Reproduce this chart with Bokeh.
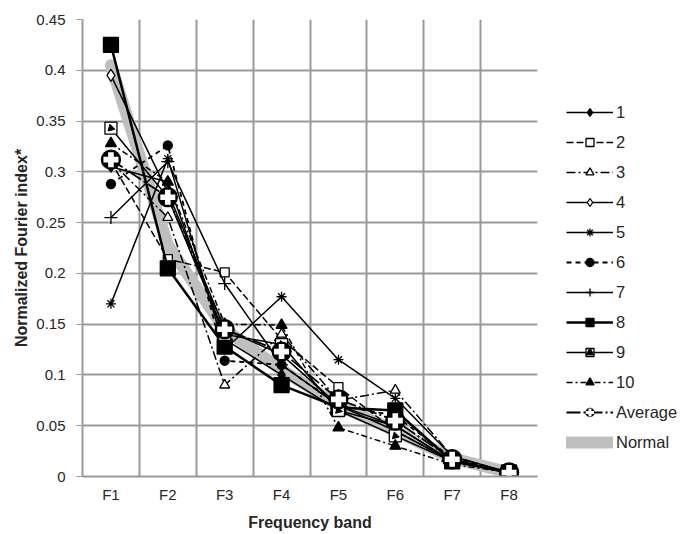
import math
from bokeh.plotting import figure
from bokeh.models import Legend, LegendItem, FixedTicker, Range1d
from bokeh.embed import file_html
from bokeh.resources import INLINE

bands = ["F1", "F2", "F3", "F4", "F5", "F6", "F7", "F8"]
y_ticks = [0, 0.05, 0.1, 0.15, 0.2, 0.25, 0.3, 0.35, 0.4, 0.45]

s1 = [0.305, 0.290, 0.135, 0.100, 0.065, 0.050, 0.015, 0.004]
s2 = [0.310, 0.214, 0.201, 0.135, 0.088, 0.045, 0.015, 0.004]
s3 = [0.310, 0.255, 0.090, 0.140, 0.075, 0.085, 0.020, 0.004]
s4 = [0.395, 0.280, 0.145, 0.120, 0.070, 0.050, 0.015, 0.004]
s5 = [0.170, 0.313, 0.125, 0.177, 0.115, 0.077, 0.020, 0.004]
s6 = [0.288, 0.326, 0.114, 0.110, 0.070, 0.060, 0.018, 0.004]
s7 = [0.255, 0.310, 0.190, 0.110, 0.070, 0.045, 0.015, 0.004]
s8 = [0.425, 0.205, 0.128, 0.090, 0.068, 0.065, 0.015, 0.004]
s9 = [0.343, 0.275, 0.140, 0.130, 0.065, 0.040, 0.015, 0.004]
s10 = [0.328, 0.290, 0.150, 0.149, 0.048, 0.030, 0.012, 0.004]
average = [0.312, 0.275, 0.145, 0.123, 0.076, 0.055, 0.017, 0.004]
normal = [0.405, 0.228, 0.145, 0.105, 0.070, 0.045, 0.018, 0.004]

x = list(range(1, len(bands) + 1))
FONT = "Liberation Sans"

p = figure(frame_width=455, frame_height=457, output_backend="svg", toolbar_location=None,
           x_range=Range1d(0.5, 8.5), y_range=Range1d(0, 0.45),
           min_border_left=82, min_border_top=19, min_border_bottom=50, min_border_right=0)
p.background_fill_color = "white"
p.outline_line_color = None

# axes
p.xaxis.ticker = FixedTicker(ticks=x)
p.xaxis.major_label_overrides = {i: b for i, b in zip(x, bands)}
p.yaxis.ticker = FixedTicker(ticks=y_ticks)
p.yaxis.major_label_overrides = {0: "0"}
p.yaxis.minor_tick_line_color = None
p.xaxis.minor_tick_line_color = None
p.yaxis.major_tick_in = 0
p.yaxis.major_tick_out = 6
for ax in (p.xaxis, p.yaxis):
    ax.axis_line_color = "#9a9a9a"
    ax.axis_line_width = 2
    ax.major_tick_line_color = "#9a9a9a"
    ax.major_label_text_font = FONT
    ax.major_label_text_font_size = "15px"
    ax.major_label_text_color = "#262626"
    ax.axis_label_text_font = FONT
    ax.axis_label_text_font_size = "16px"
    ax.axis_label_text_font_style = "bold"
    ax.axis_label_text_color = "#262626"
p.xaxis.major_tick_line_color = None
p.xaxis.axis_label = "Frequency band"
p.yaxis.axis_label = "Normalized Fourier index*"
p.xaxis.major_label_standoff = 3
p.yaxis.major_label_standoff = 11
p.xaxis.axis_label_standoff = 8
p.yaxis.axis_label_standoff = 3

p.xgrid.ticker = FixedTicker(ticks=[i + 0.5 for i in range(0, 9)])
p.ygrid.ticker = FixedTicker(ticks=y_ticks)
for g in (p.xgrid, p.ygrid):
    g.grid_line_color = "#9a9a9a"
    g.grid_line_width = 2

items = []

rn = p.line(x, normal, line_color="#bfbfbf", line_width=12, line_cap="round")

def series(vals, label, dash="solid", marker="circle", size=9, fill="black", lw=1.5, extra=None):
    rs = [p.line(x, vals, line_color="black", line_width=lw, line_dash=dash)]
    rs.append(p.scatter(x, vals, marker=marker, size=size, fill_color=fill,
                        line_color="black", line_width=1.3))
    if extra:
        for e in extra:
            rs.append(p.scatter(x, vals, **e))
    items.append(LegendItem(label=label, renderers=rs))

series(s1, "1", "solid", "diamond", 11, "black")
series(s2, "2", "7 3", "square", 9, "white")
series(s3, "3", "9 3 2 3", "triangle", 10, "white")
series(s4, "4", "solid", "diamond", 12, "white")
series(s5, "5", "solid", "asterisk", 10, "black")
series(s6, "6", "5 4", "circle", 9, "black", lw=1.8)
series(s7, "7", "solid", "cross", 13, "black")
series(s8, "8", "solid", "square", 15, "black", lw=2.5)
series(s9, "9", "solid", "square", 12, "white",
       extra=[dict(marker="triangle", size=7, angle=math.pi * 0.75, fill_color="black", line_color="black")])
series(s10, "10", "6 3 2 3", "triangle", 11, "black")
series(average, "Average", "14 3 2 3", "circle", 19, "black", lw=1.8,
       extra=[dict(marker="plus", size=15, fill_color="white", line_color=None)])
items.append(LegendItem(label="Normal", renderers=[rn]))

legend = Legend(items=items, location=(29, 24), orientation="vertical")
legend.label_text_font = FONT
legend.label_text_font_size = "16.5px"
legend.label_text_color = "#262626"
legend.glyph_width = 47
legend.glyph_height = 20
legend.spacing = 10
legend.label_standoff = 3
legend.padding = 4
legend.margin = 0
legend.border_line_color = None
legend.background_fill_alpha = 0
p.add_layout(legend, "right")

open("out.html", "w").write(file_html(p, INLINE))
